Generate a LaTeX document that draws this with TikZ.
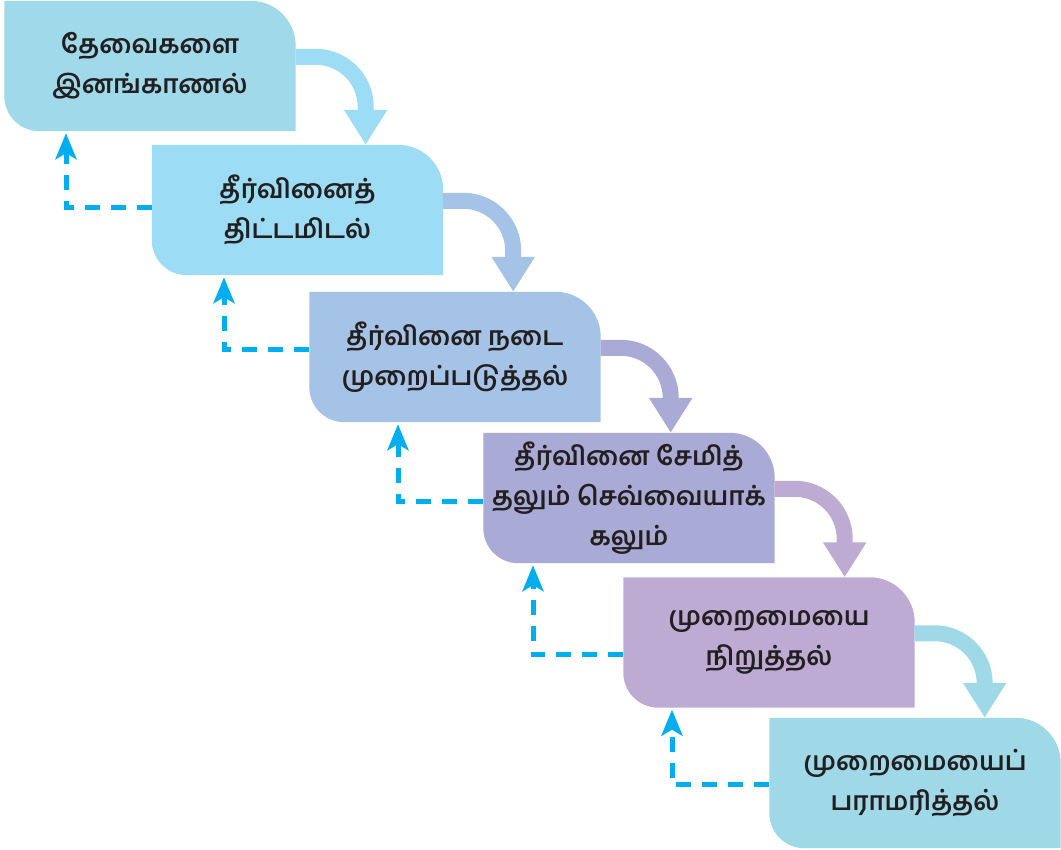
\documentclass[tikz,border=0pt]{standalone}
\usepackage{fontspec}
\newfontfamily\tamilfont[Script=Tamil]{Hind Madurai}
\usetikzlibrary{arrows.meta,backgrounds}

\definecolor{needblue}{HTML}{9FD9EA}
\definecolor{planblue}{HTML}{9DDCF5}
\definecolor{applyblue}{HTML}{A4C3E6}
\definecolor{storeviolet}{HTML}{A9AAD5}
\definecolor{stopviolet}{HTML}{BEABD3}
\definecolor{keepblue}{HTML}{9FD9E8}
\definecolor{dashcyan}{HTML}{00AEEF}
\definecolor{inkgrey}{HTML}{231F20}

\tikzset{
  stepbox/.style={minimum width=291pt, minimum height=130pt, inner sep=0pt,
    align=center, text=inkgrey, font=\tamilfont\bfseries\fontsize{26}{40}\selectfont},
  flow/.style={line width=16pt, -{Triangle[length=35pt,width=41pt]}},
  feedback/.style={draw=dashcyan, line width=5pt, dash pattern=on 15pt off 11pt,
    -{Stealth[length=26pt,width=21pt,inset=6pt]}}
}

\newcommand{\stepfill}[2]{\fill[#2] (#1.north west) -- ([xshift=-45pt]#1.north east)
  arc[start angle=90,end angle=0,radius=45pt] -- (#1.south east)
  -- ([xshift=35pt]#1.south west) arc[start angle=270,end angle=180,radius=35pt] -- cycle;}

\begin{document}
\begin{tikzpicture}[x=1pt,y=1pt]
    \useasboundingbox (0,0) rectangle (1061,850);

    \node[stepbox] (need) at (150,784) {தேவைகளை\\இனங்காணல்};
    \node[stepbox] (plan) at (297.5,640) {தீர்வினைத்\\திட்டமிடல்};
    \node[stepbox] (apply) at (455,493) {தீர்வினை நடை\\முறைப்படுத்தல்};
    \node[stepbox] (store) at (629,352) {தீர்வினை சேமித்\\தலும் செவ்வையாக்\\கலும்};
    \node[stepbox] (stop) at (769,207.5) {முறைமையை\\நிறுத்தல்};
    \node[stepbox] (keep) at (915,67) {முறைமையைப்\\பராமரித்தல்};

    \begin{scope}[on background layer]
        \stepfill{need}{needblue}
        \stepfill{plan}{planblue}
        \stepfill{apply}{applyblue}
        \stepfill{store}{storeviolet}
        \stepfill{stop}{stopviolet}
        \stepfill{keep}{keepblue}
    \end{scope}

    \draw[flow, color=planblue] ([yshift=-56pt]need.north east) -- ++(20,0)
        arc[start angle=90,end angle=0,radius=50] coordinate (t1) -- (t1 |- plan.north);
    \draw[flow, color=applyblue] ([yshift=-56pt]plan.north east) -- ++(20,0)
        arc[start angle=90,end angle=0,radius=50] coordinate (t2) -- (t2 |- apply.north);
    \draw[flow, color=storeviolet] ([yshift=-56pt]apply.north east) -- ++(20,0)
        arc[start angle=90,end angle=0,radius=50] coordinate (t3) -- (t3 |- store.north);
    \draw[flow, color=stopviolet] ([yshift=-56pt]store.north east) -- ++(20,0)
        arc[start angle=90,end angle=0,radius=50] coordinate (t4) -- (t4 |- stop.north);
    \draw[flow, color=keepblue] ([yshift=-56pt]stop.north east) -- ++(20,0)
        arc[start angle=90,end angle=0,radius=50] coordinate (t5) -- (t5 |- keep.north);

    \coordinate (fA) at (66,642);
    \coordinate (fB) at (224,500);
    \coordinate (fC) at (398,348);
    \coordinate (fD) at (533,195);
    \coordinate (fE) at (672,65);

    \draw[feedback] (plan.west |- fA) -| ([yshift=-2pt]need.south -| fA);
    \draw[feedback] (apply.west |- fB) -| ([yshift=-2pt]plan.south -| fB);
    \draw[feedback] (store.west |- fC) -| ([yshift=-2pt]apply.south -| fC);
    \draw[feedback] (stop.west |- fD) -| ([yshift=-2pt]store.south -| fD);
    \draw[feedback] (keep.west |- fE) -| ([yshift=-2pt]stop.south -| fE);
\end{tikzpicture}
\end{document}
